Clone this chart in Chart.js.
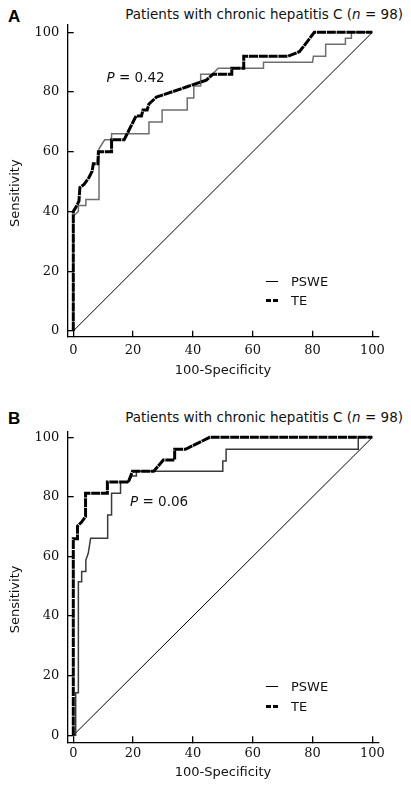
<!DOCTYPE html>
<html>
<head>
<meta charset="utf-8">
<title>ROC curves PSWE vs TE</title>
<script src="https://cdn.jsdelivr.net/npm/chart.js@4.4.0/dist/chart.umd.min.js"></script>
<style>
    body { margin: 0; background: #fff; }
    #page { position: relative; width: 411px; height: 786px; font-family: 'DejaVu Sans', sans-serif; color: #000; }
    canvas { position: absolute; left: 0; }
    .panel-tag { position: absolute; left: 8px; font: bold 17px 'Liberation Sans', Arial, sans-serif; line-height: 20px; }
    .panel-title { position: absolute; right: 8px; font-size: 13.5px; line-height: 16px; white-space: nowrap; color: #111; }
    .p-value { position: absolute; font-size: 13.5px; line-height: 16px; white-space: nowrap; color: #111; }
    .legend { position: absolute; font-size: 13px; color: #111; }
    .legend-row { display: flex; align-items: center; }
    .legend-line { width: 12px; margin-right: 13px; }
    .line-pswe { height: 1px; background: #000; }
    .line-te { height: 3px; background: linear-gradient(to right, #000 0 5px, transparent 5px 7px, #000 7px 12px); }
</style>
</head>
<body>
<div id="page">
    <div class="panel-tag" style="top:7px">A</div>
    <div class="panel-title" style="top:5.5px">Patients with chronic hepatitis C (<i>n</i> = 98)</div>
    <canvas id="chartA" width="411" height="393" style="top:0"></canvas>
    <div class="p-value" style="left:106.5px; top:68.5px"><i>P</i> = 0.42</div>
    <div class="legend" style="left:266px; top:272px">
        <div class="legend-row" style="height:19px"><div class="legend-line line-pswe"></div>PSWE</div>
        <div class="legend-row" style="height:19px"><div class="legend-line line-te"></div>TE</div>
    </div>

    <div class="panel-tag" style="top:409px">B</div>
    <div class="panel-title" style="top:409px">Patients with chronic hepatitis C (<i>n</i> = 98)</div>
    <canvas id="chartB" width="411" height="393" style="top:393px"></canvas>
    <div class="p-value" style="left:130px; top:493px"><i>P</i> = 0.06</div>
    <div class="legend" style="left:266px; top:676px">
        <div class="legend-row" style="height:20px"><div class="legend-line line-pswe"></div>PSWE</div>
        <div class="legend-row" style="height:20px"><div class="legend-line line-te"></div>TE</div>
    </div>
</div>

<script>
// Axis ticks (both panels)
const tickValues = [0, 20, 40, 60, 80, 100];

// Reference diagonal
const diagX = [0, 100];
const diagY = [0, 100];

// Panel A - PSWE
const aPsweX = [0, 0, 1.7, 1.7, 4.2, 4.2, 8.6, 8.6, 10.5, 12.8, 12.8, 25.3, 25.3, 29.7, 29.7, 38.1, 38.1, 40.3, 40.3, 42.6, 42.6, 46.5, 48.5, 63.6, 63.6, 80, 80.3, 84.4, 84.4, 91, 91, 93, 93, 100];
const aPsweY = [0, 38.5, 40, 42, 42, 44, 44, 61, 64, 64, 66, 66, 70, 70, 74, 74, 78, 78, 82, 82, 86, 86, 88, 88, 90, 90, 92, 92, 96, 96, 98, 98, 100, 100];

// Panel A - TE
const aTeX = [0, 0, 0.8, 1.9, 2.2, 3.6, 5.2, 6.3, 6.7, 8.2, 8.4, 12.8, 12.8, 17, 21, 22.8, 23.3, 24.7, 25.3, 27.8, 37.8, 44.5, 46.7, 53, 53, 57, 57, 71.7, 75.6, 77.8, 80.6, 100];
const aTeY = [0, 40, 41.3, 43.5, 48, 49.1, 51.3, 53.5, 56, 56, 60, 60, 64, 64, 72, 72, 74, 74, 76, 78.3, 81.7, 84, 86, 86, 88, 88, 92, 92, 93.5, 96.3, 100, 100];

// Panel B - PSWE
const bPsweX = [0, 0.8, 0.8, 1.7, 1.7, 2.8, 2.8, 4.2, 4.2, 5, 5.8, 11.5, 11.5, 12.8, 12.8, 15.8, 15.8, 18.5, 19.5, 21.1, 21.1, 50, 50, 51.1, 51.1, 95.3, 95.3, 100];
const bPsweY = [0, 0, 14.3, 14.3, 51.5, 51.5, 55, 55, 58.8, 61.1, 66.1, 66.1, 73.9, 73.9, 81.2, 81.2, 84.9, 84.9, 87, 87, 88.6, 88.6, 92.1, 92.1, 96, 96, 100, 100];

// Panel B - TE
const bTeX = [0, 0, 1.4, 1.4, 2.7, 4.1, 4.1, 11.4, 11.4, 18.4, 19.8, 26.9, 30.1, 33.9, 33.9, 37.5, 45.6, 100];
const bTeY = [0, 66, 66, 70.2, 71.5, 73.4, 81.2, 81.2, 85, 85, 88.6, 88.6, 92.4, 92.4, 96, 96, 100, 100];

Chart.defaults.font.family = "'DejaVu Sans', sans-serif";
Chart.defaults.color = '#111';

function toPoints(xs, ys) {
    return xs.map((x, i) => ({ x: x, y: ys[i] }));
}

// Shared axis settings: inward tick marks, serif tick labels
function axisOptions(min, max, extra) {
    return Object.assign({
        type: 'linear',
        min: min,
        max: max,
        afterBuildTicks: scale => {
            scale.ticks = tickValues.map(v => ({ value: v }));
        },
        border: { display: true, color: '#000', width: 1.3 },
        grid: { drawOnChartArea: false, drawTicks: true, tickLength: -6, color: '#000', lineWidth: 1.3 },
    }, extra);
}

function makePanel(canvasId, psweX, psweY, teX, teY, psweColor, geo) {
    const ctx = document.getElementById(canvasId);
    return new Chart(ctx, {
        type: 'line',
        data: {
            datasets: [
                {
                    label: 'Reference',
                    data: toPoints(diagX, diagY),
                    borderColor: '#000',
                    borderWidth: 1,
                    pointRadius: 0,
                    order: 3
                },
                {
                    label: 'PSWE',
                    data: toPoints(psweX, psweY),
                    borderColor: psweColor,
                    borderWidth: 1.5,
                    pointRadius: 0,
                    order: 2
                },
                {
                    label: 'TE',
                    data: toPoints(teX, teY),
                    borderColor: '#000',
                    borderWidth: 3,
                    borderDash: [9, 0.8],
                    pointRadius: 0,
                    order: 1
                }
            ]
        },
        options: {
            responsive: false,
            animation: false,
            devicePixelRatio: 1,
            layout: {
                padding: { left: 0, right: 32.7, top: geo.top, bottom: geo.padBottom }
            },
            plugins: {
                legend: { display: false },
                tooltip: { enabled: false }
            },
            scales: {
                x: axisOptions(-1.87, 102, {
                    position: 'bottom',
                    afterFit: scale => { scale.height = geo.xAxisHeight; },
                    ticks: {
                        autoSkip: false,
                        maxRotation: 0,
                        padding: geo.xTickPad,
                        font: { family: "'DejaVu Serif', serif", size: 13 }
                    },
                    title: {
                        display: true,
                        text: '100-Specificity',
                        font: { size: 13 },
                        padding: { top: 0, bottom: 0 }
                    }
                }),
                y: axisOptions(geo.yMin, geo.yMax, {
                    position: 'left',
                    afterFit: scale => { scale.width = 67.7; },
                    ticks: {
                        autoSkip: false,
                        padding: 14.4,
                        font: { family: "'DejaVu Serif', serif", size: 13 }
                    },
                    title: {
                        display: true,
                        // trailing spaces push the rotated label a little lower, as in the source
                        text: 'Sensitivity\u00a0\u00a0\u00a0\u00a0\u00a0\u00a0',
                        font: { size: 13 },
                        padding: { top: 7.7, bottom: 0 }
                    }
                })
            }
        }
    });
}

const chartA = makePanel('chartA', aPsweX, aPsweY, aTeX, aTeY, '#6e6e6e', {
    top: 25, padBottom: 14.2, xAxisHeight: 42.1, xTickPad: 12.5, yMin: -1.91, yMax: 102.45
});

const chartB = makePanel('chartB', bPsweX, bPsweY, bTeX, bTeY, '#3a3a3a', {
    top: 38.7, padBottom: 5.5, xAxisHeight: 38.2, xTickPad: 9.9, yMin: -2.35, yMax: 101.9
});
</script>
</body>
</html>
